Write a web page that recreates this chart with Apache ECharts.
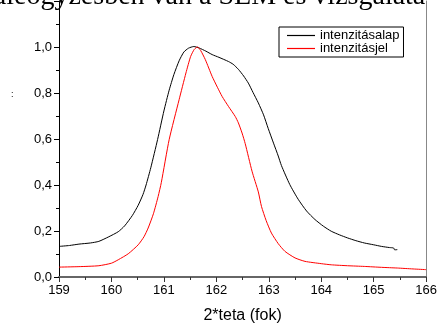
<!DOCTYPE html>
<html>
<head>
<meta charset="utf-8">
<script src="https://cdn.jsdelivr.net/npm/echarts@6/dist/echarts.min.js"></script>
<style>html,body{margin:0;padding:0;background:#fff;}#c{width:440px;height:329px;}</style>
</head>
<body>
<div id="c"></div>
<script>
// intenzitásalap (black)
var alapX = [159.00,159.20,159.38,159.60,159.76,159.95,160.13,160.25,160.40,160.51,160.60,160.66,160.75,160.88,161.00,161.10,161.19,161.29,161.38,161.47,161.57,161.67,161.80,161.92,162.05,162.23,162.32,162.42,162.52,162.61,162.70,162.80,162.90,162.99,163.09,163.18,163.24,163.40,163.56,163.72,163.88,164.04,164.19,164.35,164.50,164.66,164.82,165.00,165.15,165.30,165.38,165.40,165.45];
var alapY = [0.133,0.137,0.143,0.148,0.155,0.175,0.197,0.222,0.268,0.312,0.358,0.400,0.475,0.598,0.722,0.812,0.880,0.940,0.978,0.995,1.002,0.996,0.982,0.967,0.955,0.937,0.925,0.903,0.874,0.843,0.802,0.757,0.705,0.645,0.582,0.526,0.485,0.402,0.338,0.287,0.250,0.221,0.199,0.183,0.170,0.158,0.148,0.140,0.133,0.128,0.126,0.118,0.119];
// intenzitásjel (red)
var jelX = [159.00,159.38,159.76,160.00,160.13,160.32,160.51,160.62,160.70,160.80,160.89,160.95,161.10,161.29,161.42,161.51,161.58,161.64,161.70,161.79,161.92,162.02,162.11,162.23,162.36,162.42,162.49,162.55,162.68,162.80,162.86,162.95,163.05,163.18,163.31,163.50,163.69,164.00,164.19,164.50,164.82,165.15,165.45,165.75,166.00];
var jelY = [0.043,0.045,0.049,0.060,0.075,0.101,0.140,0.175,0.213,0.275,0.350,0.410,0.597,0.771,0.887,0.959,0.990,1.000,0.985,0.945,0.872,0.825,0.785,0.742,0.698,0.670,0.626,0.580,0.460,0.370,0.307,0.245,0.191,0.145,0.111,0.083,0.068,0.058,0.053,0.049,0.046,0.042,0.039,0.035,0.032];
var seriesNames = ['intenzitásalap','intenzitásjel'];
var xName = '2*teta (fok)';
var titleText = 'ıaleogyzésben van a SEM és vizsgálatá';

function pairs(xs, ys){ return xs.map(function(x,i){ return [x, ys[i]]; }); }

var chart = echarts.init(document.getElementById('c'), null, {renderer:'canvas'});
var font = 'Liberation Sans, Arial, sans-serif';
chart.setOption({
  animation:false,
  backgroundColor:'#fff',
  grid:{left:59, right:11, top:1, bottom:52},
  legend:{
    orient:'vertical', left:279, top:27, padding:[2,4,2,8], itemGap:0,
    itemWidth:28, itemHeight:1.2, itemTextGap:4, icon:'rect',
    borderColor:'#000', borderWidth:1, backgroundColor:'#fff',
    textStyle:{fontFamily:font, fontSize:13, color:'#000', lineHeight:10},
    data:seriesNames
  },
  xAxis:{
    type:'value', min:159, max:166, interval:1,
    name:xName, nameLocation:'middle', nameGap:31,
    nameTextStyle:{fontFamily:font, fontSize:16, color:'#000'},
    axisLine:{lineStyle:{color:'#666', width:2}},
    axisTick:{inside:false, length:5, lineStyle:{color:'#333'}},
    minorTick:{show:true, splitNumber:2, length:3, lineStyle:{color:'#333'}},
    splitLine:{show:false},
    axisLabel:{fontFamily:font, fontSize:13, color:'#000', margin:7}
  },
  yAxis:[{
    type:'value', min:0, max:1.2, interval:0.2,
    axisLine:{show:true, lineStyle:{color:'#000', width:1}},
    axisTick:{show:true, inside:false, length:5, lineStyle:{color:'#000'}},
    minorTick:{show:true, splitNumber:2, length:3, lineStyle:{color:'#000'}},
    splitLine:{show:false},
    axisLabel:{fontFamily:font, fontSize:13, color:'#000', margin:7,
      formatter:function(v){ return v>1.1 ? '' : v.toFixed(1).replace('.', ','); }}
  },{
    type:'value', min:0, max:1.2, interval:0.2, position:'right',
    axisLine:{show:true, lineStyle:{color:'#888', width:1}},
    axisTick:{show:false}, axisLabel:{show:false}, splitLine:{show:false}
  }],
  graphic:[
    {type:'text', left:-14, top:-17, z:100, style:{text:titleText, fontFamily:'Liberation Serif, Times New Roman, serif', fontSize:28, fill:'#000'}},
    {type:'text', left:11, top:90, style:{text:':', fontFamily:font, fontSize:9, fill:'#000'}}
  ],
  series:[
    {name:seriesNames[0], type:'line', data:pairs(alapX, alapY), symbol:'none', smooth:0.2,
      lineStyle:{color:'#000', width:1}, itemStyle:{color:'#000'}},
    {name:seriesNames[1], type:'line', data:pairs(jelX, jelY), symbol:'none', smooth:0.2,
      lineStyle:{color:'#ff0000', width:1}, itemStyle:{color:'#ff0000'}}
  ]
});
</script>
</body>
</html>
